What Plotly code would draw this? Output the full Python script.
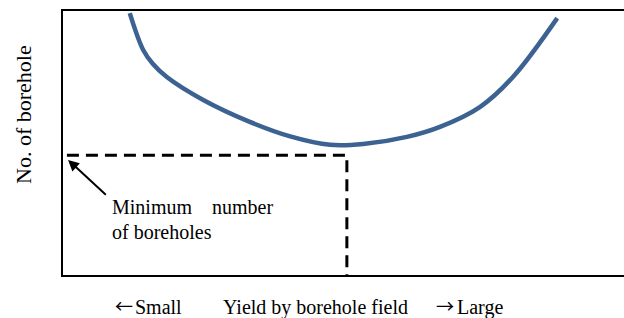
import plotly.graph_objects as go

# Data (arbitrary units)
yield_x = [11.9, 14.3, 16.0, 18.5, 25.0, 33.3, 40.5, 47.6, 53.5, 61.3, 67.2, 74.3, 80.2, 88.1]
boreholes_y = [99.2, 85.2, 80.0, 75.0, 66.3, 58.0, 52.5, 49.3, 49.6, 52.3, 56.1, 63.6, 75.0, 97.3]
min_x = 50.6
min_y = 45.4
x_start = 0.7

FONT = "Liberation Serif"
ARROWFONT = "Noto Sans CJK JP"

fig = go.Figure()
fig.add_trace(go.Scatter(x=yield_x, y=boreholes_y, mode="lines",
                         line=dict(color="#3c6291", width=4.5, shape="spline", smoothing=1.0),
                         hoverinfo="skip", showlegend=False))
fig.add_trace(go.Scatter(x=[x_start, min_x, min_x], y=[min_y, min_y, 0], mode="lines",
                         line=dict(color="black", width=3, dash="12px,7px"),
                         hoverinfo="skip", showlegend=False))

fig.add_annotation(x=0.9, y=43.6, ax=7.9, ay=29.9, xref="x", yref="y", axref="x", ayref="y",
                   text="", showarrow=True, arrowhead=2, arrowsize=1.1, arrowwidth=2, arrowcolor="black")
fig.add_annotation(x=8.4, y=25.8, xref="x", yref="y", text="Minimum&nbsp;&nbsp;&nbsp;&nbsp;number",
                   showarrow=False, xanchor="left", yanchor="middle", font=dict(family=FONT, size=20, color="black"))
fig.add_annotation(x=8.4, y=16.3, xref="x", yref="y", text="of boreholes",
                   showarrow=False, xanchor="left", yanchor="middle", font=dict(family=FONT, size=20, color="black"))

bottom_texts = [("←", 124, 305, ARROWFONT, 18), ("Small", 158, 307, FONT, 20),
                ("Yield by borehole field", 315.5, 307, FONT, 20),
                ("→", 444.5, 305, ARROWFONT, 18), ("Large", 480, 307, FONT, 20)]
for txt, px, py, fam, sz in bottom_texts:
    fig.add_annotation(x=(px - 63) / 561, y=-(py - 275) / 264, xref="paper", yref="paper", text=txt,
                       showarrow=False, xanchor="center", yanchor="middle",
                       font=dict(family=fam, size=sz, color="black"))

fig.add_annotation(x=-40 / 561, y=(275 - 115) / 264, xref="paper", yref="paper", text="No. of borehole",
                   textangle=-90, showarrow=False, xanchor="center", yanchor="middle",
                   font=dict(family=FONT, size=22, color="black"))

fig.update_xaxes(range=[0, 100], showgrid=False, zeroline=False, showticklabels=False, ticks="",
                 showline=True, linecolor="black", linewidth=2, mirror=True)
fig.update_yaxes(range=[0, 100], showgrid=False, zeroline=False, showticklabels=False, ticks="",
                 showline=True, linecolor="black", linewidth=2, mirror=False)
fig.update_layout(width=624, height=318, margin=dict(l=63, r=0, t=11, b=43),
                  paper_bgcolor="white", plot_bgcolor="white",
                  font=dict(family=FONT, color="black"))
fig.write_html("out.html", config={"displayModeBar": False},
               post_script="document.body.style.margin='0px';")
